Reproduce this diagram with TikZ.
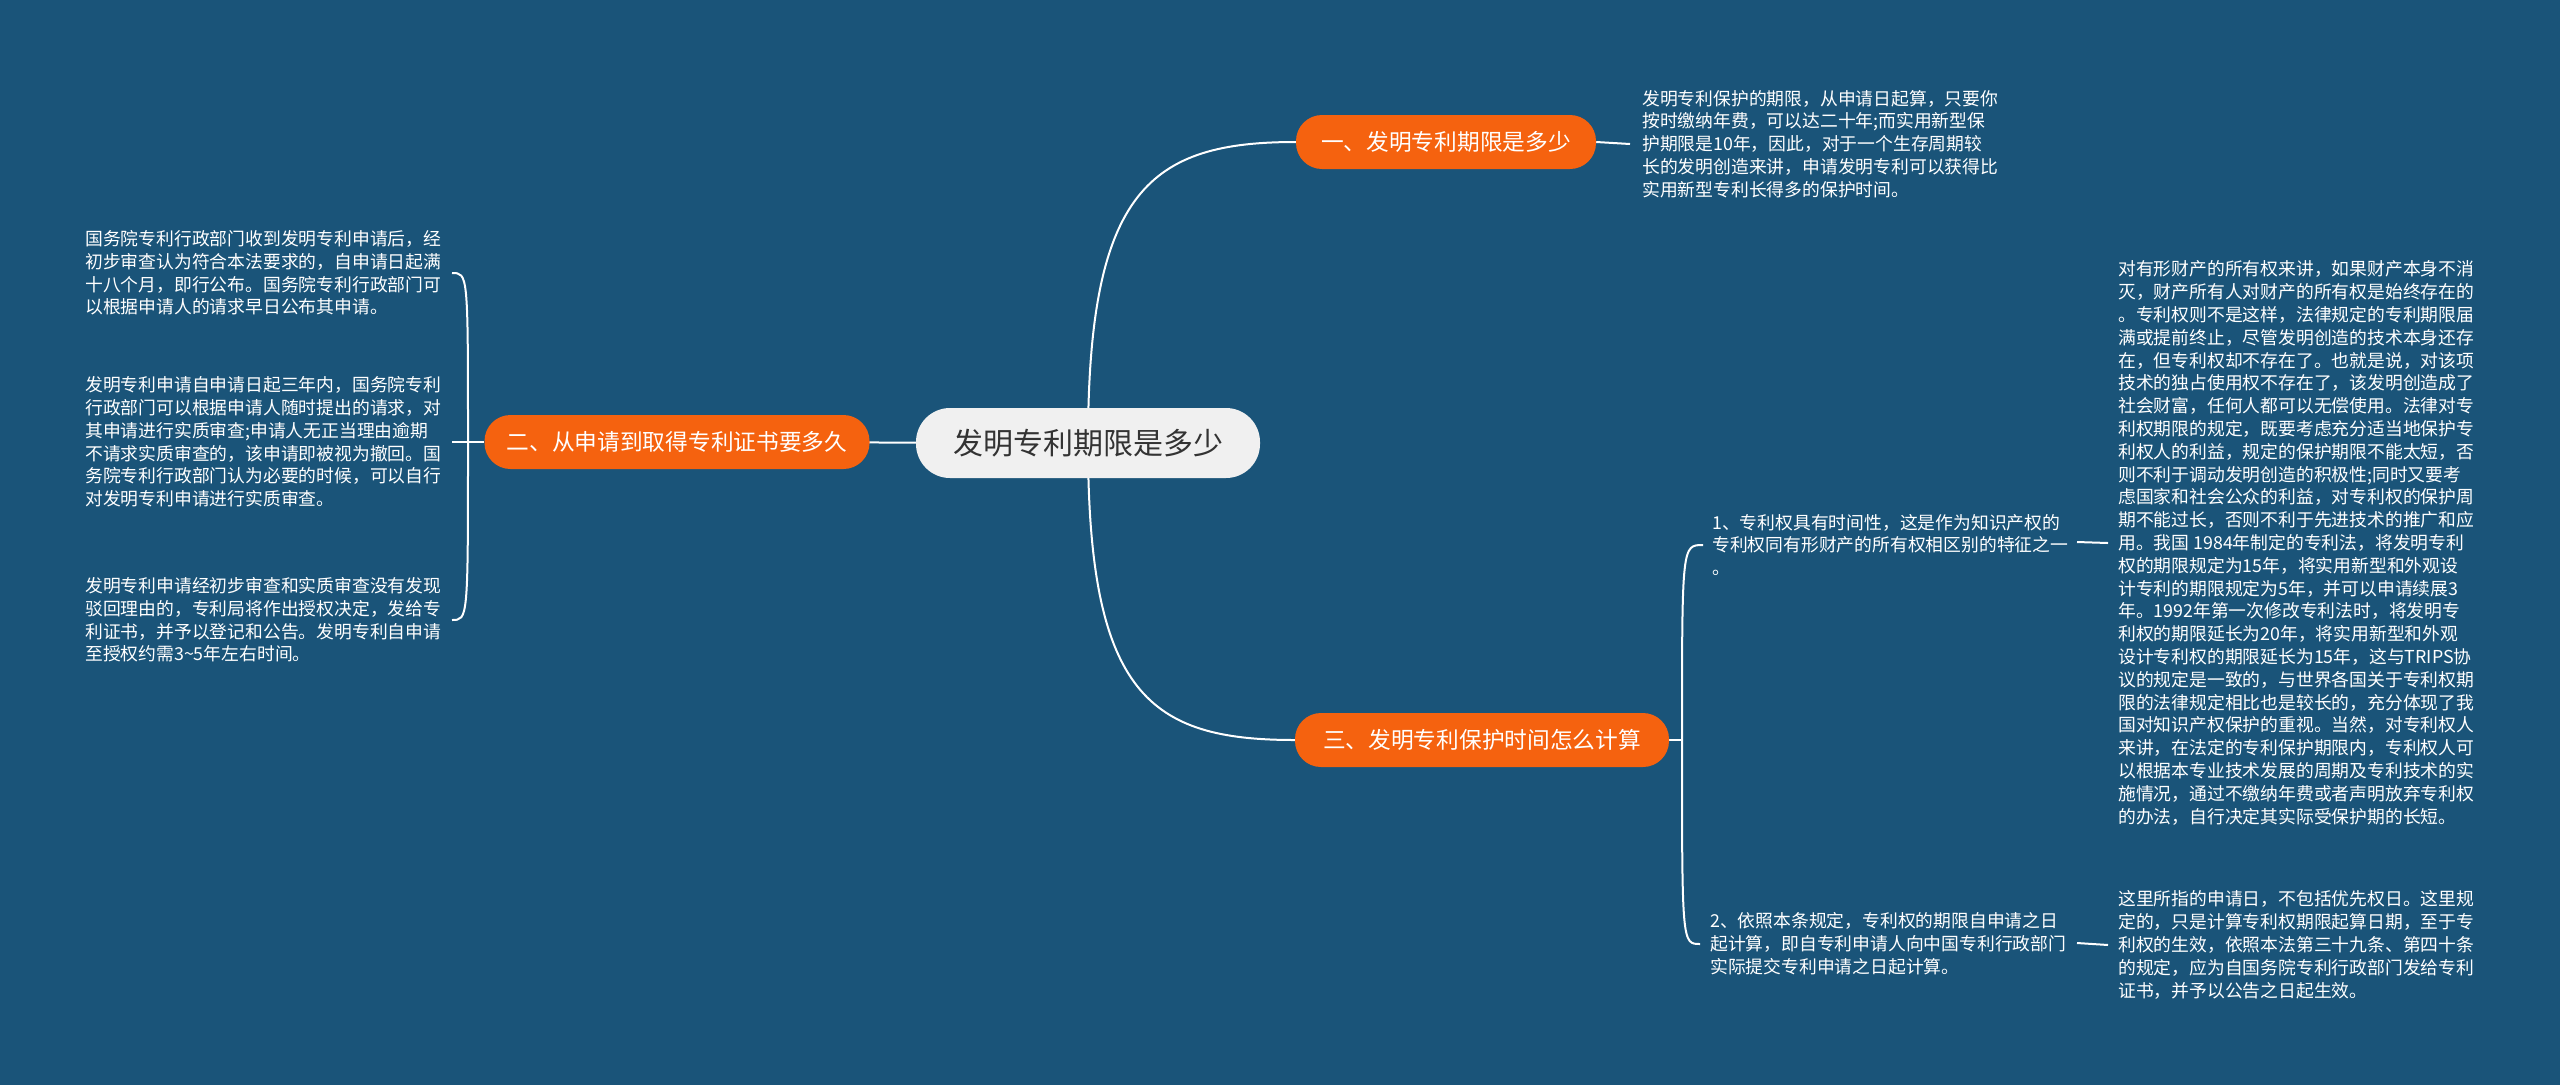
\documentclass[tikz,border=0pt]{standalone}
\usepackage{fontspec}
\newfontfamily\cjk{Noto Sans CJK SC}
\pgfdeclarelayer{bg}
\pgfdeclarelayer{edges}
\pgfsetlayers{bg,edges,main}
\definecolor{bgblue}{HTML}{1A5479}
\definecolor{orangebox}{HTML}{F5620F}
\definecolor{rootfill}{HTML}{F0F0F0}
\definecolor{roottext}{HTML}{333333}
\begin{document}
\begin{tikzpicture}[x=1pt,y=-1pt,
  rootbox/.style={fill=rootfill, text=roottext, rounded corners=34pt, minimum width=344pt, minimum height=70pt, inner sep=0pt, font=\cjk\fontsize{30}{36}\selectfont},
  branchbox/.style={fill=orangebox, text=white, rounded corners=26pt, minimum height=54pt, inner sep=0pt, font=\cjk\fontsize{22.7}{27}\selectfont},
  leaf/.style={text=white, align=left, anchor=west, inner sep=0pt, font=\cjk\fontsize{17.8}{22.8}\selectfont},
  conn/.style={draw=white, line width=2pt},
]
\useasboundingbox (0,0) rectangle (2560,1085);
\begin{pgfonlayer}{bg}
\fill[bgblue] (0,0) rectangle (2560,1085);
\end{pgfonlayer}

% main nodes
\node[rootbox] (root) at (1088,443) {发明专利期限是多少};
\node[branchbox, minimum width=300pt] (b1) at (1446,142) {一、发明专利期限是多少};
\node[branchbox, minimum width=385pt] (b2) at (677,442) {二、从申请到取得专利证书要多久};
\node[branchbox, minimum width=374pt] (b3) at (1482,740) {三、发明专利保护时间怎么计算};

% leaves
\node[leaf] (l1) at (1642,144) {发明专利保护的期限，从申请日起算，只要你\\按时缴纳年费，可以达二十年;而实用新型保\\护期限是10年，因此，对于一个生存周期较\\长的发明创造来讲，申请发明专利可以获得比\\实用新型专利长得多的保护时间。};

\node[leaf] (l2a) at (85,273) {国务院专利行政部门收到发明专利申请后，经\\初步审查认为符合本法要求的，自申请日起满\\十八个月，即行公布。国务院专利行政部门可\\以根据申请人的请求早日公布其申请。};
\node[leaf] (l2b) at (85,442) {发明专利申请自申请日起三年内，国务院专利\\行政部门可以根据申请人随时提出的请求，对\\其申请进行实质审查;申请人无正当理由逾期\\不请求实质审查的，该申请即被视为撤回。国\\务院专利行政部门认为必要的时候，可以自行\\对发明专利申请进行实质审查。};
\node[leaf] (l2c) at (85,620) {发明专利申请经初步审查和实质审查没有发现\\驳回理由的，专利局将作出授权决定，发给专\\利证书，并予以登记和公告。发明专利自申请\\至授权约需3\textasciitilde 5年左右时间。};

\node[leaf] (l3a) at (1712,545) {1、专利权具有时间性，这是作为知识产权的\\专利权同有形财产的所有权相区别的特征之一\\。};
\node[leaf] (l3aa) at (2118,543) {对有形财产的所有权来讲，如果财产本身不消\\灭，财产所有人对财产的所有权是始终存在的\\。专利权则不是这样，法律规定的专利期限届\\满或提前终止，尽管发明创造的技术本身还存\\在，但专利权却不存在了。也就是说，对该项\\技术的独占使用权不存在了，该发明创造成了\\社会财富，任何人都可以无偿使用。法律对专\\利权期限的规定，既要考虑充分适当地保护专\\利权人的利益，规定的保护期限不能太短，否\\则不利于调动发明创造的积极性;同时又要考\\虑国家和社会公众的利益，对专利权的保护周\\期不能过长，否则不利于先进技术的推广和应\\用。我国 1984年制定的专利法，将发明专利\\权的期限规定为15年，将实用新型和外观设\\计专利的期限规定为5年，并可以申请续展3\\年。1992年第一次修改专利法时，将发明专\\利权的期限延长为20年，将实用新型和外观\\设计专利权的期限延长为15年，这与TRIPS协\\议的规定是一致的，与世界各国关于专利权期\\限的法律规定相比也是较长的，充分体现了我\\国对知识产权保护的重视。当然，对专利权人\\来讲，在法定的专利保护期限内，专利权人可\\以根据本专业技术发展的周期及专利技术的实\\施情况，通过不缴纳年费或者声明放弃专利权\\的办法，自行决定其实际受保护期的长短。};
\node[leaf] (l3b) at (1710,944) {2、依照本条规定，专利权的期限自申请之日\\起计算，即自专利申请人向中国专利行政部门\\实际提交专利申请之日起计算。};
\node[leaf] (l3bb) at (2118,945) {这里所指的申请日，不包括优先权日。这里规\\定的，只是计算专利权期限起算日期，至于专\\利权的生效，依照本法第三十九条、第四十条\\的规定，应为自国务院专利行政部门发给专利\\证书，并予以公告之日起生效。};

% junction coordinates
\coordinate (j2) at (468,442);
\coordinate (j3) at (1682,740);
\coordinate (e2a) at (452,273);
\coordinate (e2b) at (452,442);
\coordinate (e2c) at (452,620);
\coordinate (e3a) at (1703,545);
\coordinate (e3b) at (1700,944);

\begin{pgfonlayer}{edges}
\draw[conn] (root.center) .. controls (1088,190) and (1150,142) .. (b1.west);
\draw[conn] (root.center) .. controls (1088,695) and (1150,740) .. (b3.west);
\draw[conn] (root.center) -- (b2.center);
\draw[conn] (b1.east) -- ([xshift=-12pt]l1.west);
% branch 2 leaves
\draw[conn] (b2.west) -- (e2b);
\draw[conn] (j2) .. controls (468,273) and (468,273) .. (e2a);
\draw[conn] (j2) .. controls (468,620) and (468,620) .. (e2c);
% branch 3 leaves
\draw[conn] (b3.east) -- (j3);
\draw[conn] (j3) .. controls (1682,545) and (1682,545) .. (e3a);
\draw[conn] (j3) .. controls (1682,944) and (1682,944) .. (e3b);
\draw[conn] (2077,542) -- ([xshift=-10pt]l3aa.west);
\draw[conn] (2077,943) -- ([xshift=-10pt]l3bb.west);
\end{pgfonlayer}
\end{tikzpicture}
\end{document}
